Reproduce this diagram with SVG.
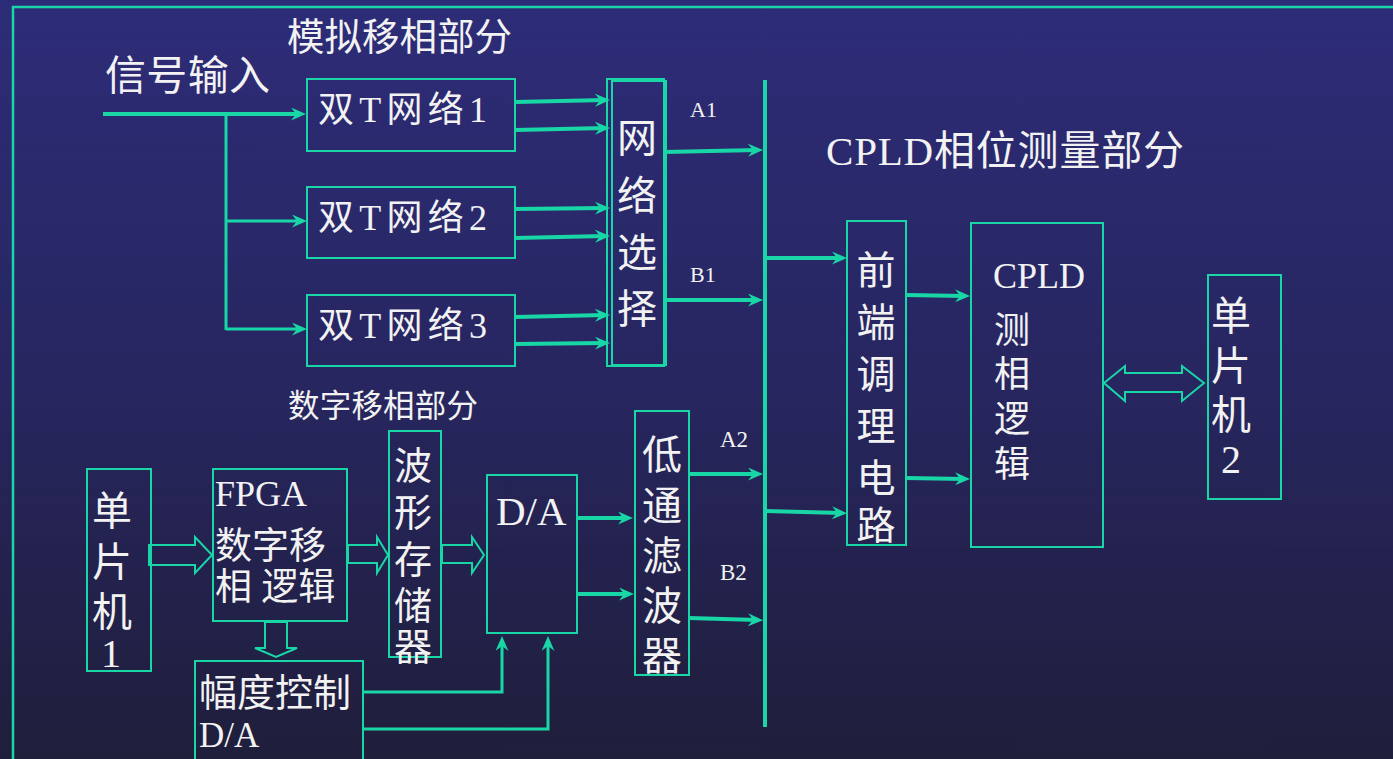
<svg xmlns="http://www.w3.org/2000/svg" width="1393" height="759" viewBox="0 0 1393 759">
<defs>
<linearGradient id="bg" x1="0" y1="0" x2="0" y2="1">
<stop offset="0" stop-color="#2d2c78"/>
<stop offset="0.5" stop-color="#272660"/>
<stop offset="1" stop-color="#1f1e3b"/>
</linearGradient>
<marker id="ah" viewBox="0 0 15 13" refX="10" refY="6.5" markerWidth="15" markerHeight="13" markerUnits="userSpaceOnUse" orient="auto">
<path d="M0,0 L15,6.5 L0,13 L5,6.5 z" fill="#18d6a6"/>
</marker>
<style>
.box{fill:none;stroke:#18d6a6;stroke-width:2}
.ln{fill:none;stroke:#18d6a6;stroke-width:4}
.tn{fill:none;stroke:#18d6a6;stroke-width:3}
.hol{fill:none;stroke:#18d6a6;stroke-width:2;stroke-linejoin:miter}
text{fill:#f2f2f2;font-family:"Liberation Serif","Noto Sans CJK SC",serif}
</style>
</defs>
<rect x="0" y="0" width="1393" height="759" fill="url(#bg)"/>
<path d="M13,759 L13,7 L1393,7" fill="none" stroke="#18d6a6" stroke-width="2.5"/>

<g id="labels">
<text x="287" y="50" font-size="37.5" textLength="225" lengthAdjust="spacing">模拟移相部分</text>
<text x="105" y="90" font-size="41" textLength="165" lengthAdjust="spacing">信号输入</text>
<text x="826" y="165" font-size="41" textLength="358" lengthAdjust="spacing">CPLD相位测量部分</text>
<text x="288" y="417" font-size="31.5" textLength="190" lengthAdjust="spacing">数字移相部分</text>
<text x="690" y="117" font-size="22">A1</text>
<text x="690" y="282" font-size="22">B1</text>
<text x="720" y="447" font-size="23">A2</text>
<text x="720" y="580" font-size="23">B2</text>
</g>

<g id="connectors">
<line class="ln" x1="103" y1="114" x2="301" y2="114" marker-end="url(#ah)"/>
<line class="tn" x1="226" y1="114" x2="226" y2="330"/>
<line class="tn" x1="226" y1="221" x2="302" y2="221" marker-end="url(#ah)"/>
<line class="tn" x1="226" y1="329" x2="302" y2="329" marker-end="url(#ah)"/>
<line class="ln" x1="515" y1="102" x2="605" y2="100" marker-end="url(#ah)"/>
<line class="ln" x1="515" y1="130" x2="605" y2="128" marker-end="url(#ah)"/>
<line class="ln" x1="515" y1="209" x2="605" y2="208" marker-end="url(#ah)"/>
<line class="ln" x1="515" y1="238" x2="605" y2="236" marker-end="url(#ah)"/>
<line class="ln" x1="515" y1="317" x2="605" y2="315" marker-end="url(#ah)"/>
<line class="ln" x1="515" y1="344" x2="605" y2="343" marker-end="url(#ah)"/>
<line class="ln" x1="664" y1="152" x2="758" y2="150" marker-end="url(#ah)"/>
<line class="ln" x1="666" y1="300" x2="758" y2="300" marker-end="url(#ah)"/>
<line class="ln" x1="765" y1="80" x2="765" y2="727"/>
<line class="ln" x1="765" y1="258" x2="842" y2="258" marker-end="url(#ah)"/>
<line class="ln" x1="765" y1="511" x2="842" y2="513" marker-end="url(#ah)"/>
<line class="ln" x1="906" y1="295" x2="965" y2="296" marker-end="url(#ah)"/>
<line class="ln" x1="906" y1="478" x2="965" y2="479" marker-end="url(#ah)"/>
<line class="ln" x1="689" y1="474" x2="758" y2="474" marker-end="url(#ah)"/>
<line class="ln" x1="689" y1="618" x2="758" y2="620" marker-end="url(#ah)"/>
<line class="ln" x1="577" y1="518" x2="628" y2="518" marker-end="url(#ah)"/>
<line class="ln" x1="577" y1="594" x2="629" y2="594" marker-end="url(#ah)"/>
<path class="tn" d="M363,692 L502,692 L502,641" marker-end="url(#ah)"/>
<path class="tn" d="M363,729 L548,729 L548,641" marker-end="url(#ah)"/>
<polygon class="hol" points="149,545 195,545 195,537 212,555 195,573 195,565 149,565"/>
<polygon class="hol" points="348,545 377,545 377,537 388,555 377,573 377,563 348,563"/>
<polygon class="hol" points="442,545 472,545 472,537 484,555 472,573 472,563 442,563"/>
<polygon class="hol" points="265,622 287,622 287,648 297,648 276,657 255,648 265,648"/>
<polygon class="hol" points="1104,383 1125,366 1125,373 1182,373 1182,366 1204,383 1182,401 1182,392 1125,392 1125,401"/>
</g>

<g id="dt1">
<rect class="box" x="307" y="79" width="208" height="72"/>
<text x="318" y="122" font-size="36" textLength="169" lengthAdjust="spacing">双T网络1</text>
</g>
<g id="dt2">
<rect class="box" x="307" y="187" width="208" height="71"/>
<text x="318" y="230" font-size="36" textLength="169" lengthAdjust="spacing">双T网络2</text>
</g>
<g id="dt3">
<rect class="box" x="307" y="295" width="208" height="71"/>
<text x="318" y="338" font-size="36" textLength="169" lengthAdjust="spacing">双T网络3</text>
</g>
<g id="netsel">
<rect class="box" x="607" y="79" width="57" height="287"/>
<rect class="box" x="612" y="81" width="54" height="284"/>
<text font-size="40" text-anchor="middle"><tspan x="637" y="152">网</tspan><tspan x="637" y="210">络</tspan><tspan x="637" y="267">选</tspan><tspan x="637" y="323">择</tspan></text>
</g>
<g id="frontend">
<rect class="box" x="847" y="221" width="59" height="324"/>
<text font-size="39" text-anchor="middle"><tspan x="876" y="284">前</tspan><tspan x="876" y="336">端</tspan><tspan x="876" y="388">调</tspan><tspan x="876" y="440">理</tspan><tspan x="876" y="492">电</tspan><tspan x="876" y="539">路</tspan></text>
</g>
<g id="cpld">
<rect class="box" x="971" y="223" width="132" height="324"/>
<text x="993" y="288" font-size="36">CPLD</text>
<text font-size="36"><tspan x="994" y="343">测</tspan><tspan x="994" y="387">相</tspan><tspan x="994" y="432">逻</tspan><tspan x="994" y="477">辑</tspan></text>
</g>
<g id="mcu2">
<rect class="box" x="1208" y="275" width="73" height="224"/>
<text font-size="40"><tspan x="1211" y="330">单</tspan><tspan x="1211" y="380">片</tspan><tspan x="1211" y="429">机</tspan><tspan x="1221" y="473">2</tspan></text>
</g>
<g id="mcu1">
<rect class="box" x="87" y="469" width="64" height="202"/>
<text font-size="40"><tspan x="92" y="525">单</tspan><tspan x="92" y="576">片</tspan><tspan x="92" y="626">机</tspan><tspan x="101" y="667">1</tspan></text>
</g>
<g id="fpga">
<rect class="box" x="213" y="469" width="134" height="152"/>
<text x="215" y="506" font-size="36">FPGA</text>
<text x="215" y="559" font-size="37">数字移</text>
<text x="215" y="600" font-size="37">相 逻辑</text>
</g>
<g id="wavemem">
<rect class="box" x="389" y="431" width="52" height="226"/>
<text font-size="38" text-anchor="middle"><tspan x="413" y="479">波</tspan><tspan x="413" y="526">形</tspan><tspan x="413" y="573">存</tspan><tspan x="413" y="619">储</tspan><tspan x="413" y="660">器</tspan></text>
</g>
<g id="da">
<rect class="box" x="487" y="475" width="90" height="158"/>
<text x="496" y="525" font-size="41">D/A</text>
</g>
<g id="lpf">
<rect class="box" x="635" y="411" width="54" height="264"/>
<text font-size="40" text-anchor="middle"><tspan x="662" y="469">低</tspan><tspan x="662" y="520">通</tspan><tspan x="662" y="570">滤</tspan><tspan x="662" y="620">波</tspan><tspan x="662" y="670">器</tspan></text>
</g>
<g id="ampda">
<rect class="box" x="195" y="661" width="168" height="110"/>
<text x="199" y="706" font-size="38">幅度控制</text>
<text x="199" y="747" font-size="35">D/A</text>
</g>
</svg>
